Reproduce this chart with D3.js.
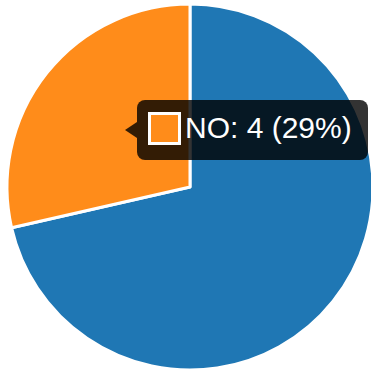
<!DOCTYPE html>
<html><head><meta charset="utf-8">
<script src="https://cdn.jsdelivr.net/npm/d3@7"></script>
<style>html,body{margin:0;padding:0;background:#fff;overflow:hidden}</style>
</head><body>
<svg id="c" width="371" height="374"></svg>
<script>
const labels = ["YES", "NO"];
const values = [10, 4];
const colors = ["#1f77b4", "#ff8c1a"];
const tooltipIndex = 1;

const svg = d3.select("#c");
const cx = 190, cy = 187, r = 183;
const total = d3.sum(values);
const pie = d3.pie().sort(null).value(d => d)(values);
const arc = d3.arc().innerRadius(0).outerRadius(r);
const g = svg.append("g").attr("transform", `translate(${cx},${cy})`);
g.selectAll("path").data(pie).join("path")
  .attr("d", arc)
  .attr("fill", (d, i) => colors[i])
  .attr("stroke", "#fff")
  .attr("stroke-width", 3)
  .attr("stroke-linejoin", "round");

// tooltip
const tx = 137, ty = 100, tw = 231, th = 60, rr = 8;
const tip = svg.append("g");
tip.append("rect").attr("x", tx).attr("y", ty).attr("width", tw).attr("height", th)
  .attr("rx", rr).attr("fill", "rgba(0,0,0,0.8)");
tip.append("path").attr("d", `M${tx},${ty + th/2 - 8} L${tx - 12},${ty + th/2} L${tx},${ty + th/2 + 8} Z`)
  .attr("fill", "rgba(0,0,0,0.8)");
tip.append("rect").attr("x", 149.5).attr("y", 113.5).attr("width", 30).attr("height", 30)
  .attr("fill", colors[tooltipIndex]).attr("stroke", "#fff").attr("stroke-width", 3);
const pct = Math.round(values[tooltipIndex] / total * 100);
tip.append("text").attr("x", 185).attr("y", 138)
  .attr("fill", "#fff").attr("font-family", "Liberation Sans, Arial, sans-serif")
  .attr("font-size", 30)
  .text(`${labels[tooltipIndex]}: ${values[tooltipIndex]} (${pct}%)`);
</script>
</body></html>
